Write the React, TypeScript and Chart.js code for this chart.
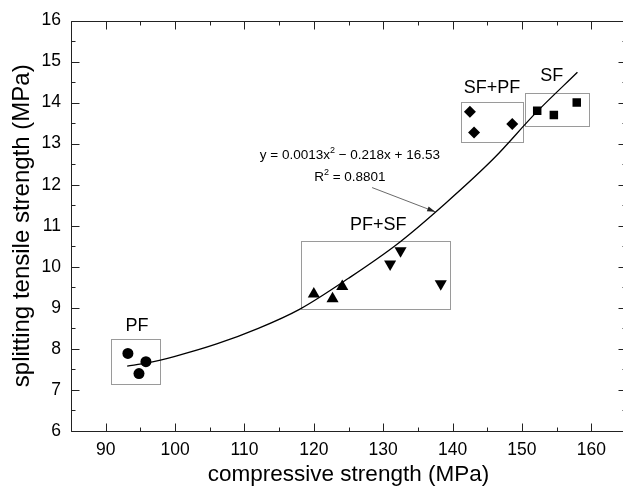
import React, { useEffect, useRef } from "react";
import { Chart, registerables } from "chart.js";

Chart.register(...registerables);

// ---- data ----
const pfX = [93.2, 95.8, 94.8];
const pfY = [7.89, 7.69, 7.4];

const pfsfUpX = [120.0, 122.7, 124.1];
const pfsfUpY = [9.34, 9.22, 9.52];

const pfsfDownX = [131.0, 132.5, 138.3];
const pfsfDownY = [10.07, 10.39, 9.59];

const sfpfX = [142.5, 143.1, 148.6];
const sfpfY = [13.78, 13.27, 13.48];

const sfX = [152.2, 154.6, 157.9];
const sfY = [13.8, 13.7, 14.0];

// fitted curve
const fitX = [93.1, 96, 100, 106, 112, 118, 125, 132, 139, 146, 152, 158];
const fitY = [7.58, 7.66, 7.82, 8.12, 8.5, 8.97, 9.72, 10.55, 11.55, 12.65, 13.75, 14.74];

// group boxes: [xMin, xMax, yMin, yMax]
const boxNames = ["PF", "PF+SF", "SF+PF", "SF"];
const boxXMin = [90.8, 118.2, 141.2, 150.5];
const boxXMax = [97.9, 139.6, 150.1, 159.7];
const boxYMin = [7.15, 8.97, 13.03, 13.42];
const boxYMax = [8.23, 10.64, 14.01, 14.24];
const labelX = [94.5, 129.3, 145.7, 154.3];
const labelY = [8.56, 11.02, 14.36, 14.64];

const eqText1 = "y = 0.0013x";
const eqText2 = " \u2212 0.218x + 16.53";
const r2Text = " = 0.8801";
const eqX = 125.2;
const eqY = 12.76;
const r2Y = 12.22;
const arrowFrom = [128.4, 11.93];
const arrowTo = [137.5, 11.34];

const xTicks = [90, 100, 110, 120, 130, 140, 150, 160];
const yTicks = [6, 7, 8, 9, 10, 11, 12, 13, 14, 15, 16];
const xMin = 85, xMax = 165, yMin = 6, yMax = 16;
const xMinorStep = 5, yMinorStep = 0.5;

const FONT = "'Liberation Sans', Arial, sans-serif";

const toPts = (xs: number[], ys: number[]) => xs.map((x, i) => ({ x, y: ys[i] }));

const framePlugin = {
  id: "framePlugin",
  beforeDatasetsDraw(chart: any) {
    const ctx = chart.ctx;
    const xs = chart.scales.x;
    const ys = chart.scales.y;
    ctx.save();
    ctx.strokeStyle = "#9a9a9a";
    ctx.lineWidth = 1;
    for (let i = 0; i < boxNames.length; i++) {
      const l = Math.round(xs.getPixelForValue(boxXMin[i])) + 0.5;
      const r = Math.round(xs.getPixelForValue(boxXMax[i])) + 0.5;
      const t = Math.round(ys.getPixelForValue(boxYMax[i])) + 0.5;
      const b = Math.round(ys.getPixelForValue(boxYMin[i])) + 0.5;
      ctx.strokeRect(l, t, r - l, b - t);
    }
    ctx.restore();
  },
  afterDatasetsDraw(chart: any) {
    const ctx = chart.ctx;
    const xs = chart.scales.x;
    const ys = chart.scales.y;
    const { left, right, top, bottom } = chart.chartArea;
    ctx.save();
    ctx.strokeStyle = "#222";
    ctx.lineWidth = 1;
    const L = Math.round(left) + 0.5, R = Math.round(right) + 0.5;
    const T = Math.round(top) + 0.5, B = Math.round(bottom) + 0.5;
    ctx.beginPath();
    ctx.moveTo(L, T); ctx.lineTo(R, T); ctx.lineTo(R, B); ctx.lineTo(L, B); ctx.closePath();
    ctx.stroke();
    ctx.beginPath();
    for (let v = xMin; v <= xMax + 1e-9; v += xMinorStep) {
      const major = xTicks.includes(v);
      const len = major ? 8 : 4;
      const px = Math.round(xs.getPixelForValue(v)) + 0.5;
      ctx.moveTo(px, B); ctx.lineTo(px, B - len);
      ctx.moveTo(px, T); ctx.lineTo(px, T + len);
    }
    for (let v = yMin; v <= yMax + 1e-9; v += yMinorStep) {
      const major = yTicks.includes(v);
      const len = major ? 8 : 4;
      const py = Math.round(ys.getPixelForValue(v)) + 0.5;
      ctx.moveTo(L, py); ctx.lineTo(L + len, py);
      ctx.moveTo(R, py); ctx.lineTo(R - len, py);
    }
    ctx.stroke();

    ctx.fillStyle = "#000";
    ctx.font = `18px ${FONT}`;
    ctx.textAlign = "center";
    ctx.textBaseline = "middle";
    for (let i = 0; i < boxNames.length; i++) {
      ctx.fillText(boxNames[i], xs.getPixelForValue(labelX[i]), ys.getPixelForValue(labelY[i]));
    }

    const drawSup = (parts: { t: string; sup?: boolean }[], cx: number, cy: number) => {
      const widths = parts.map((p) => {
        ctx.font = p.sup ? `9px ${FONT}` : `13.5px ${FONT}`;
        return ctx.measureText(p.t).width;
      });
      const total = widths.reduce((a, b) => a + b, 0);
      let x = cx - total / 2;
      ctx.textAlign = "left";
      ctx.textBaseline = "alphabetic";
      parts.forEach((p, i) => {
        ctx.font = p.sup ? `9px ${FONT}` : `13.5px ${FONT}`;
        ctx.fillText(p.t, x, p.sup ? cy - 6 : cy);
        x += widths[i];
      });
    };
    const ex = xs.getPixelForValue(eqX);
    drawSup([{ t: eqText1 }, { t: "2", sup: true }, { t: eqText2 }], ex, ys.getPixelForValue(eqY) + 5);
    drawSup([{ t: "R" }, { t: "2", sup: true }, { t: r2Text }], ex, ys.getPixelForValue(r2Y) + 5);

    const ax0 = xs.getPixelForValue(arrowFrom[0]), ay0 = ys.getPixelForValue(arrowFrom[1]);
    const ax1 = xs.getPixelForValue(arrowTo[0]), ay1 = ys.getPixelForValue(arrowTo[1]);
    ctx.strokeStyle = "#444";
    ctx.lineWidth = 0.8;
    ctx.beginPath();
    ctx.moveTo(ax0, ay0); ctx.lineTo(ax1, ay1);
    ctx.stroke();
    const ang = Math.atan2(ay1 - ay0, ax1 - ax0);
    ctx.fillStyle = "#222";
    ctx.beginPath();
    ctx.moveTo(ax1, ay1);
    ctx.lineTo(ax1 - 8 * Math.cos(ang) + 2.5 * Math.sin(ang), ay1 - 8 * Math.sin(ang) - 2.5 * Math.cos(ang));
    ctx.lineTo(ax1 - 8 * Math.cos(ang) - 2.5 * Math.sin(ang), ay1 - 8 * Math.sin(ang) + 2.5 * Math.cos(ang));
    ctx.closePath();
    ctx.fill();
    ctx.restore();
  },
};

export default function App() {
  const ref = useRef<HTMLCanvasElement | null>(null);
  useEffect(() => {
    if (!ref.current) return;
    const mk = (xs: number[], ys: number[], style: string, radius: number, rotation = 0) => ({
      data: toPts(xs, ys),
      pointStyle: style,
      pointRadius: radius,
      pointRotation: rotation,
      backgroundColor: "#000",
      borderColor: "#000",
      borderWidth: 0,
      showLine: false,
      order: 0,
    });
    const chart = new Chart(ref.current, {
      type: "scatter",
      data: {
        datasets: [
          {
            data: toPts(fitX, fitY),
            showLine: true,
            borderColor: "#000",
            borderWidth: 1.3,
            pointRadius: 0,
            cubicInterpolationMode: "monotone",
            fill: false,
            order: 1,
          } as any,
          mk(pfX, pfY, "circle", 5.5),
          mk(pfsfUpX, pfsfUpY, "triangle", 7),
          mk(pfsfDownX, pfsfDownY, "triangle", 7, 180),
          mk(sfpfX, sfpfY, "rectRot", 6),
          mk(sfX, sfY, "rect", 6),
        ],
      },
      options: {
        responsive: false,
        animation: false,
        events: [],
        layout: { padding: { top: 17, right: 14, left: 0, bottom: 0 } },
        plugins: { legend: { display: false }, tooltip: { enabled: false } },
        scales: {
          x: {
            type: "linear",
            min: xMin,
            max: xMax,
            afterBuildTicks: (s: any) => { s.ticks = xTicks.map((v) => ({ value: v })); },
            afterFit: (s: any) => { s.height = 57; },
            grid: { display: false, drawTicks: false },
            border: { display: false },
            ticks: { color: "#000", font: { family: FONT, size: 17.5 }, padding: 9, maxRotation: 0, callback: (v: any) => String(v) },
            title: { display: true, text: "compressive strength (MPa)", color: "#000", font: { family: FONT, size: 22.5 }, padding: { top: 0, bottom: 0 } },
          },
          y: {
            type: "linear",
            min: yMin,
            max: yMax,
            afterBuildTicks: (s: any) => { s.ticks = yTicks.map((v) => ({ value: v })); },
            afterFit: (s: any) => { s.width = 71; },
            grid: { display: false, drawTicks: false },
            border: { display: false },
            ticks: { color: "#000", font: { family: FONT, size: 17.5 }, padding: 10, callback: (v: any) => String(v) },
            title: { display: true, text: "splitting tensile strength (MPa)", color: "#000", font: { family: FONT, size: 24 }, padding: { top: 7.5, bottom: 0 } },
          },
        },
      } as any,
      plugins: [framePlugin],
    });
    return () => chart.destroy();
  }, []);
  return (
    <div style={{ position: "fixed", left: 0, top: 0, width: 623, height: 488, overflow: "hidden", background: "#fff" }}>
      <canvas ref={ref} width={640} height={488} style={{ width: 640, height: 488, display: "block" }} />
    </div>
  );
}
